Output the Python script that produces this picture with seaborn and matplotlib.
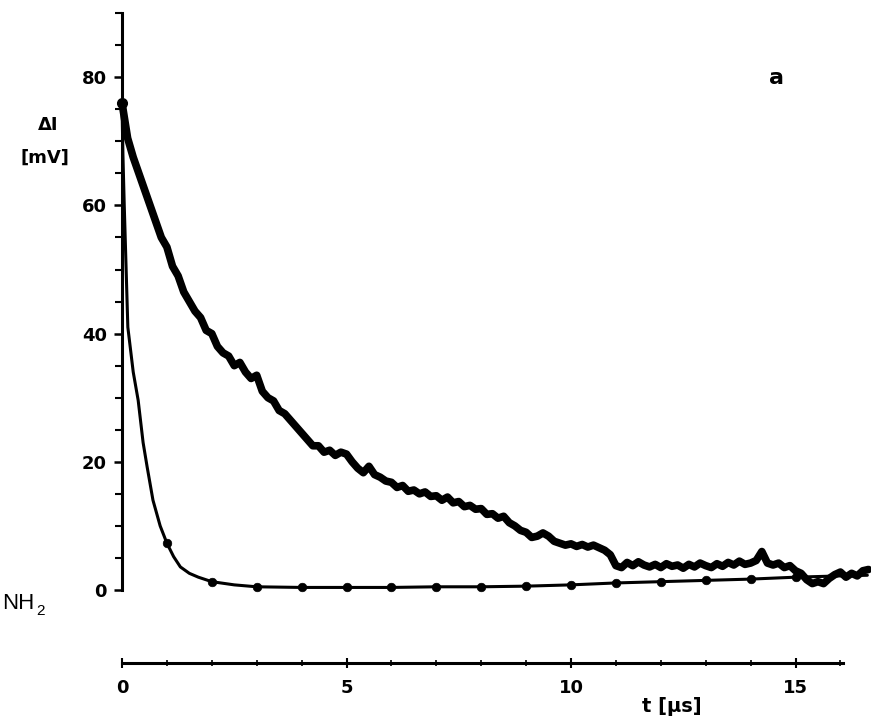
import numpy as np
import pandas as pd
import matplotlib
matplotlib.use("Agg")
import matplotlib.pyplot as plt
from matplotlib.ticker import MultipleLocator
import seaborn as sns

# slow, noisy trace: one reading every 0.125 us
SLOW_STEP = 0.125
slow_mv = [
    76, 70.5, 67.5, 65, 62.5, 60, 57.5, 55,
    53.5, 50.5, 49, 46.5, 45, 43.5, 42.5, 40.5,
    40, 38, 37, 36.5, 35, 35.5, 34, 33,
    33.5, 31, 30, 29.5, 28, 27.5, 26.5, 25.5,
    24.5, 23.5, 22.5, 22.5, 21.5, 21.8, 21, 21.5,
    21.2, 20, 19, 18.3, 19.3, 18, 17.6, 17,
    16.8, 16, 16.3, 15.4, 15.6, 15, 15.3, 14.6,
    14.7, 14, 14.5, 13.6, 13.8, 13, 13.2, 12.6,
    12.7, 11.8, 11.9, 11.2, 11.5, 10.5, 10, 9.3,
    9, 8.2, 8.4, 8.9, 8.4, 7.6, 7.3, 7.0,
    7.2, 6.8, 7.1, 6.7, 7.0, 6.6, 6.2, 5.5,
    3.8, 3.5, 4.3, 3.8, 4.4, 3.9, 3.6, 4.0,
    3.5, 4.1, 3.7, 3.9, 3.4, 4.0, 3.6, 4.2,
    3.8, 3.5, 4.1, 3.7, 4.3, 3.9, 4.5, 4.0,
    4.2, 4.6, 6.0, 4.2, 3.9, 4.2, 3.5, 3.8,
    3.0, 2.6, 1.6, 1.0, 1.3, 1.0, 1.8, 2.4,
    2.8, 2.0, 2.6, 2.2, 3.0, 3.2,
]
slow_t = np.arange(len(slow_mv)) * SLOW_STEP

# fast trace
fast_t = [0, 0.02, 0.05, 0.13, 0.25, 0.36, 0.47, 0.56, 0.69, 0.85, 1.0, 1.15,
          1.3, 1.5, 1.7, 2.0, 2.5, 3, 4, 5, 6, 7, 8, 9, 10, 11, 12, 13, 14,
          15, 16, 16.6]
fast_mv = [76, 68, 60, 41, 34, 29.6, 23, 19.2, 14, 10, 7.3, 5.2,
           3.6, 2.6, 2.0, 1.3, 0.8, 0.5, 0.4, 0.4, 0.4, 0.5, 0.5, 0.6, 0.8,
           1.1, 1.3, 1.5, 1.7, 2.0, 2.2, 2.3]
dot_t = [1, 2, 3, 4, 5, 6, 7, 8, 9, 10, 11, 12, 13, 14, 15]

y_ticks = [0, 20, 40, 60, 80]
x_ticks = [0, 5, 10, 15]

slow = pd.DataFrame({"t": slow_t, "mv": slow_mv})
fast = pd.DataFrame({"t": fast_t, "mv": fast_mv})
dots = fast[fast["t"].isin(dot_t)]

sns.set_style("white")
plt.rcParams["font.family"] = ["DejaVu Sans"]
plt.rcParams["text.color"] = "black"
plt.rcParams["xtick.color"] = "black"
plt.rcParams["ytick.color"] = "black"

fig = plt.figure(figsize=(8.71, 7.21), dpi=100)
ax = fig.add_axes([122 / 871, 1 - 590 / 721, 749 / 871, 578 / 721])

sns.lineplot(data=slow, x="t", y="mv", ax=ax, color="black", lw=5.5,
             solid_joinstyle="round", clip_on=False)
sns.lineplot(data=fast, x="t", y="mv", ax=ax, color="black", lw=2.2,
             clip_on=False)
sns.scatterplot(data=dots, x="t", y="mv", ax=ax, color="black", s=38,
                edgecolor="black", clip_on=False, zorder=5)
ax.plot([0], [76], "o", color="black", ms=7, clip_on=False)

ax.set_xlim(0, 749 / 44.9)
ax.set_ylim(0, 578 / 6.41)

for side in ["top", "right"]:
    ax.spines[side].set_visible(False)
ax.spines["left"].set_linewidth(2.2)
ax.spines["left"].set_bounds(0, 90)
ax.spines["bottom"].set_linewidth(2.2)
ax.spines["bottom"].set_position(("outward", 52.5))
ax.spines["bottom"].set_bounds(0, 16.05)
for sp in ax.spines.values():
    sp.set_color("black")

ax.set_yticks(y_ticks)
ax.yaxis.set_minor_locator(MultipleLocator(5))
ax.set_xticks(x_ticks)
ax.xaxis.set_minor_locator(MultipleLocator(1))
ax.tick_params(axis="y", which="major", direction="out", length=6, width=1.8,
               pad=5, labelsize=13, left=True, labelcolor="black")
ax.tick_params(axis="y", which="minor", direction="out", length=5, width=1.5,
               left=True)
ax.tick_params(axis="x", which="major", direction="inout", length=7, width=1.5,
               pad=8, labelsize=13, bottom=True, labelcolor="black")
ax.tick_params(axis="x", which="minor", direction="inout", length=5, width=1.2,
               bottom=True)
for lab in ax.get_xticklabels() + ax.get_yticklabels():
    lab.set_fontweight("bold")

ax.set_xlabel("")
ax.set_ylabel("")

fig.text(48 / 871, 1 - 125 / 721, "ΔI", ha="center", va="center",
         fontsize=13, fontweight="bold")
fig.text(45 / 871, 1 - 158 / 721, "[mV]", ha="center", va="center",
         fontsize=13, fontweight="bold")
fig.text(776 / 871, 1 - 78 / 721, "a", ha="center", va="center",
         fontsize=16, fontweight="bold")
fig.text(672 / 871, 1 - 706 / 721, "t [µs]", ha="center", va="center",
         fontsize=14, fontweight="bold")

# label at the left edge
fig.text(2 / 871, 1 - 609 / 721, "NH", ha="left", va="baseline",
         fontsize=16, family="Liberation Sans")
fig.text(36 / 871, 1 - 615 / 721, "2", ha="left", va="baseline",
         fontsize=11, family="Liberation Sans")

fig.savefig("out.png", dpi=100)
